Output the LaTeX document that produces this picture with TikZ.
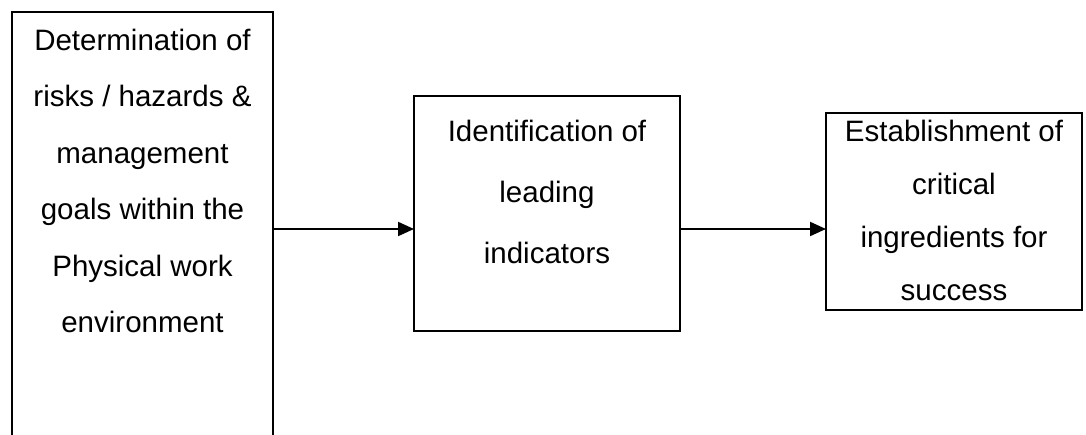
\documentclass[tikz,border=0pt]{standalone}
\usepackage{fontspec}
\setmainfont{Liberation Sans}
\usetikzlibrary{arrows.meta}
\begin{document}
\begin{tikzpicture}[x=1pt,y=-1pt,
  frame/.style={draw=black,line width=1.6pt,inner sep=0pt,outer sep=0pt},
  caption/.style={align=center,inner sep=0pt},
  flow/.style={line width=2pt,-{Triangle[length=16pt,width=14pt]}}]
  \useasboundingbox (0,0) rectangle (1086,435);
  % boxes
  \node[frame,minimum width=261pt,minimum height=480pt,anchor=north west] (lbox) at (12,12) {};
  \node[frame,minimum width=266pt,minimum height=235pt,anchor=north west] (mbox) at (414,96) {};
  \node[frame,minimum width=256pt,minimum height=197pt,anchor=north west] (rbox) at (826,113) {};
  % texts
  \node[caption,font=\fontsize{29.5}{56.4}\selectfont] (ltext) at (142.5,181)
    {Determination of\\risks / hazards \&\\management\\goals within the\\Physical work\\environment};
  \node[caption,font=\fontsize{29.5}{61}\selectfont] (mtext) at (547,192)
    {Identification of\\leading\\indicators};
  \node[caption,font=\fontsize{29.5}{53}\selectfont] (rtext) at (954,210.5)
    {Establishment of\\critical\\ingredients for\\success};
  % arrows
  \coordinate (ay) at (0,229);
  \draw[flow] (lbox.east |- ay) -- (mbox.west |- ay);
  \draw[flow] (mbox.east |- ay) -- (rbox.west |- ay);
\end{tikzpicture}
\end{document}
